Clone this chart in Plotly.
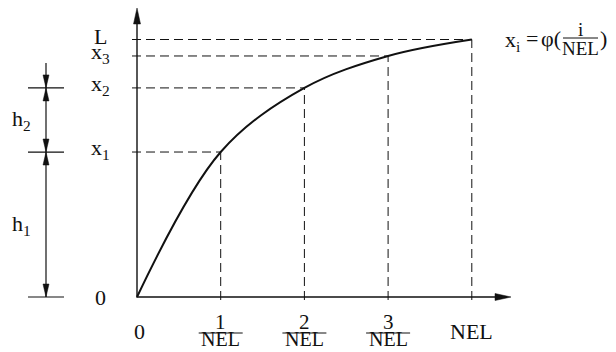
import plotly.graph_objects as go

# ---------------- data ----------------
x_steps = [0, 1, 2, 3, 4]                      # positions i (0 .. NEL)
x_tick_labels = ["0", "1/NEL", "2/NEL", "3/NEL", "NEL"]
y_values = [0.0, 0.563, 0.812, 0.936, 1.0]      # x_i as fraction of L
y_tick_labels = ["0", "x<sub>1</sub>", "x<sub>2</sub>", "x<sub>3</sub>", "L"]
dim_labels = ["h<sub>1</sub>", "h<sub>2</sub>"]

# ---------------- layout helpers (pixel -> data) ----------------
W, H = 616, 352
X0, SX = 137.0, 83.7
Y0, SY = 297.0, 257.5


def dx(px):
    return (px - X0) / SX


def dy(py):
    return (Y0 - py) / SY


def ux(v):  # data -> px
    return X0 + v * SX


def uy(v):
    return Y0 - v * SY


FONT = "Liberation Serif, Times New Roman, serif"
BLACK = "#111111"

fig = go.Figure()


def arrow_head(tip_px, direction, length, half):
    """filled narrow triangle, tip at pixel tip_px, pointing in direction (dx,dy) in px"""
    tx, ty = tip_px
    ddx, ddy = direction
    bx, by = tx - ddx * length, ty - ddy * length
    px_, py_ = -ddy, ddx
    pts = [(tx, ty), (bx + px_ * half, by + py_ * half), (bx - px_ * half, by - py_ * half)]
    path = "M " + " L ".join(f"{dx(a):.5f},{dy(b):.5f}" for a, b in pts) + " Z"
    fig.add_shape(type="path", xref="x", yref="y", path=path,
                  fillcolor=BLACK, line=dict(color=BLACK, width=0.5))


def text_at(xpx, ypx, s, size=22, xanchor="center", yanchor="middle"):
    fig.add_annotation(x=dx(xpx), y=dy(ypx), xref="x", yref="y", text=s, showarrow=False,
                       xanchor=xanchor, yanchor=yanchor,
                       font=dict(family=FONT, size=size, color=BLACK))


# dashed guide lines
gx, gy = [], []
for xv, yv in zip(x_steps[1:], y_values[1:]):
    gx += [dx(ux(0) - 5), xv, None, xv, xv, None]
    gy += [yv, yv, None, dy(uy(0) + 3), yv, None]
fig.add_trace(go.Scatter(x=gx, y=gy, mode="lines",
                         line=dict(color=BLACK, width=1, dash="9px,5px"),
                         hoverinfo="skip", showlegend=False))

# curve
fig.add_trace(go.Scatter(x=x_steps, y=y_values, mode="lines",
                         line=dict(color=BLACK, width=2, shape="spline", smoothing=1.0),
                         hoverinfo="skip", showlegend=False))

# axes with arrows
x_tip, y_tip = 511, 8
fig.add_trace(go.Scatter(x=[dx(x_tip - 10), 0, 0], y=[0, 0, dy(y_tip + 10)], mode="lines",
                         line=dict(color=BLACK, width=1.4), hoverinfo="skip", showlegend=False))
arrow_head((x_tip, uy(0)), (1, 0), 16, 3.5)
arrow_head((ux(0), y_tip), (0, -1), 16, 3.5)

# y tick labels
for yv, lab in zip(y_values, y_tick_labels):
    text_at(100, uy(yv) - (0 if yv == 0 else 3), lab, size=22)

# x tick labels (fractions drawn as numerator / bar / denominator)
for xv, lab in zip(x_steps, x_tick_labels):
    cx = ux(xv)
    if "/" in lab:
        num, den = lab.split("/")
        text_at(cx, 322, num, size=21)
        text_at(cx, 352, den, size=20, yanchor="bottom")
        fig.add_shape(type="line", xref="x", yref="y",
                      x0=dx(cx - 22), x1=dx(cx + 22), y0=dy(333), y1=dy(333),
                      line=dict(color=BLACK, width=1))
    else:
        text_at(cx + (2 if xv == 0 else 0), 331, lab, size=22)

# left dimension (h1, h2)
dim_levels = [y_values[0], y_values[1], y_values[2]]
xd_px = 46
xd = dx(xd_px)
fig.add_trace(go.Scatter(x=[xd, xd], y=[dim_levels[0], dy(63)], mode="lines",
                         line=dict(color=BLACK, width=1.2), hoverinfo="skip", showlegend=False))
for lv in dim_levels:
    fig.add_shape(type="line", xref="x", yref="y", x0=dx(28), x1=dx(64), y0=lv, y1=lv,
                  line=dict(color=BLACK, width=1.2))
for k, lv in enumerate(dim_levels):
    arrow_head((xd_px, uy(lv)), (0, 1), 13, 3)        # pointing down onto the level
    if k > 0:
        arrow_head((xd_px, uy(lv)), (0, -1), 13, 3)   # pointing up onto the level
for k, lab in enumerate(dim_labels):
    mid = (dim_levels[k] + dim_levels[k + 1]) / 2
    text_at(21, uy(mid), lab, size=22)

# formula  x_i = phi(i/NEL)
fy_px = uy(y_values[-1])
text_at(503, fy_px + 1, "x<sub>i</sub>", size=22, xanchor="left")
text_at(532, fy_px - 1, "=", size=22)
text_at(563, fy_px - 1, "φ(", size=22, xanchor="right")
text_at(580, 29, "i", size=19)
text_at(580, 48, "NEL", size=19)
fig.add_shape(type="line", xref="x", yref="y", x0=dx(563), x1=dx(598), y0=dy(38), y1=dy(38),
              line=dict(color=BLACK, width=1))
text_at(598, fy_px - 1, ")", size=22, xanchor="left")

fig.update_layout(
    width=W, height=H, autosize=False,
    margin=dict(l=0, r=0, t=0, b=0),
    paper_bgcolor="white", plot_bgcolor="white",
    xaxis=dict(range=[dx(0), dx(W)], visible=False, fixedrange=True),
    yaxis=dict(range=[dy(H), dy(0)], visible=False, fixedrange=True),
    showlegend=False,
)

fig.write_html("out.html", config={"displayModeBar": False},
               post_script="document.body.style.margin='0px';document.body.style.overflow='hidden';")
